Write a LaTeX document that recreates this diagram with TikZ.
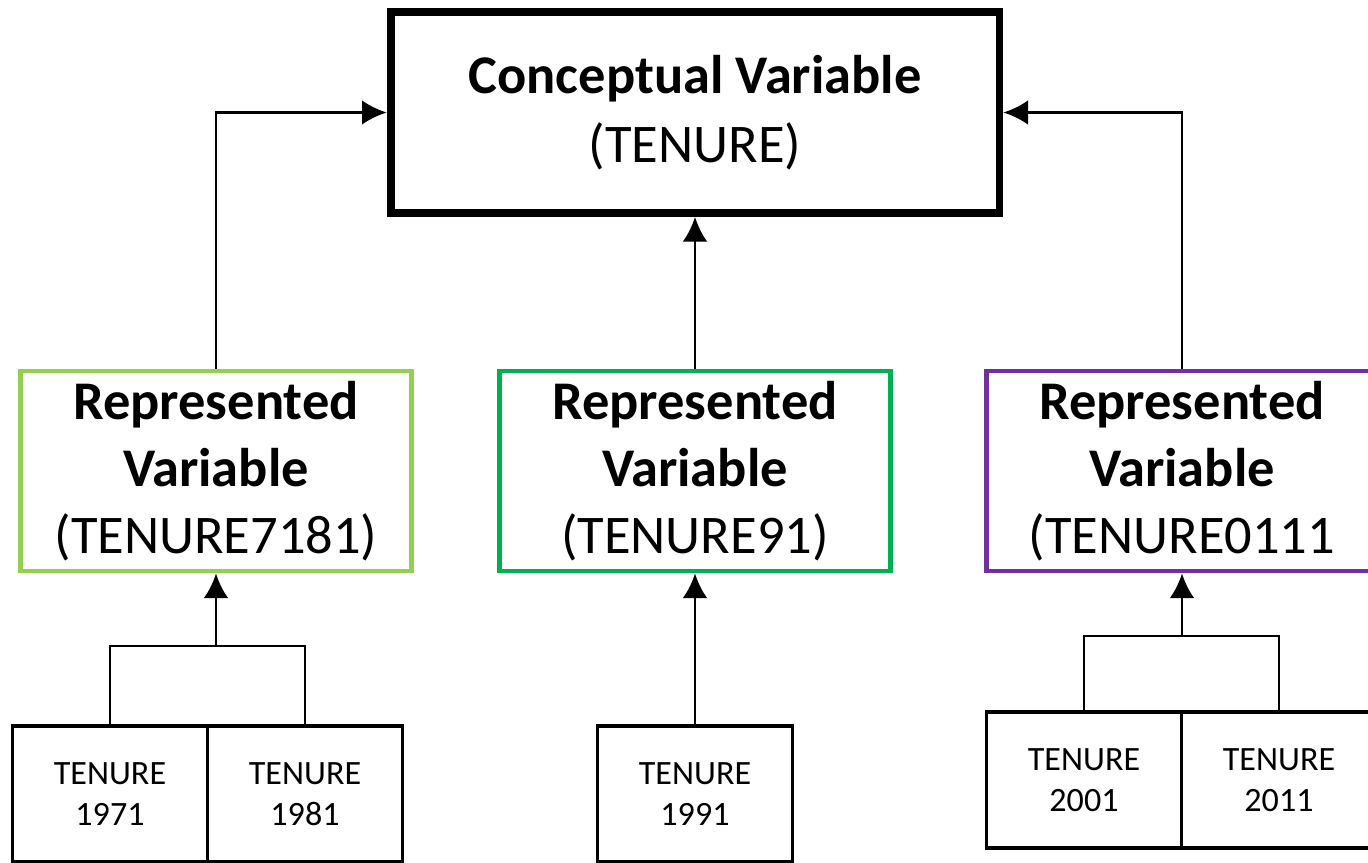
\documentclass[tikz,border=0pt]{standalone}
\usepackage{fontspec}
\setmainfont{Carlito}
\usetikzlibrary{arrows.meta}

\definecolor{lightgreen}{HTML}{92D050}
\definecolor{darkgreen}{HTML}{00B050}
\definecolor{violet}{HTML}{7030A0}

\begin{document}
\begin{tikzpicture}[
  x=0.02cm, y=-0.02cm,
  concept/.style={draw, line width=4.5pt, minimum width=12.18cm, minimum height=4.02cm,
    align=center, font=\fontsize{31}{39}\selectfont},
  repvar/.style={draw=#1, line width=2.8pt, minimum width=7.82cm, minimum height=4cm,
    align=center, font=\fontsize{31}{38}\selectfont},
  repvar/.default=black,
  wave/.style={draw, line width=2.2pt, minimum width=3.9cm, minimum height=2.72cm,
    align=center, font=\fontsize{19.4}{23}\selectfont},
  link/.style={line width=1.6pt},
  >={Latex[length=14pt,width=14pt]}]
  \useasboundingbox (0,0) rectangle (1368,862);
  % conceptual variable
  \node[concept] (concept) at (695,112.5) {\textbf{Conceptual Variable}\\(TENURE)};
  % represented variables
  \node[repvar=lightgreen] (rv7181) at (216,471) {\textbf{Represented}\\\textbf{Variable}\\(TENURE7181)};
  \node[repvar=darkgreen] (rv91) at (695,471) {\textbf{Represented}\\\textbf{Variable}\\(TENURE91)};
  \node[repvar=violet] (rv0111) at (1182,471) {\textbf{Represented}\\\textbf{Variable}\\(TENURE0111};
  % waves
  \node[wave] (t1971) at (110,794) {TENURE\\1971};
  \node[wave] (t1981) at (305,794) {TENURE\\1981};
  \node[wave] (t1991) at (695,794) {TENURE\\1991};
  \node[wave] (t2001) at (1084,780) {TENURE\\2001};
  \node[wave] (t2011) at (1279,780) {TENURE\\2011};
  \coordinate (fork7181) at (216,646);
  \coordinate (fork0111) at (1182,636);
  % connectors
  \draw[link,->] (rv7181.north) |- (concept.west);
  \draw[link,->] (rv91.north) -- (concept.south);
  \draw[link,->] (rv0111.north) |- (concept.east);
  \draw[link] (t1971.north) |- (fork7181) -| (t1981.north);
  \draw[link,->] (fork7181) -- (rv7181.south);
  \draw[link,->] (t1991.north) -- (rv91.south);
  \draw[link] (t2001.north) |- (fork0111) -| (t2011.north);
  \draw[link,->] (fork0111) -- (rv0111.south);
\end{tikzpicture}
\end{document}
